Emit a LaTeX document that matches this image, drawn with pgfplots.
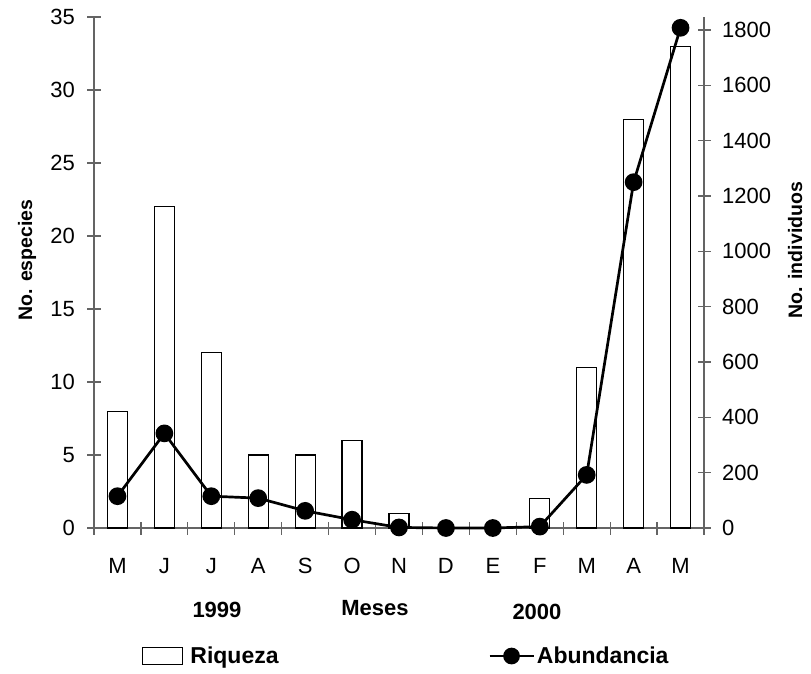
\documentclass[border=0pt]{standalone}
\usepackage{fontspec}
\setmainfont{Liberation Sans}
\usepackage{pgfplots}
\pgfplotsset{compat=1.18}
\definecolor{axgray}{RGB}{100,100,100}
\begin{document}
\begin{tikzpicture}
\useasboundingbox (-94pt,-145pt) rectangle (717pt,528pt);
\begin{axis}[
  scale only axis, width=610pt, height=511pt,
  clip=false,
  xmin=-0.5, xmax=12.5, ymin=0, ymax=35,
  axis y line*=left, axis x line*=bottom,
  axis line style={axgray, line width=1.3pt, -},
  xtick={0,...,12}, xticklabels={M,J,J,A,S,O,N,D,E,F,M,A,M},
  major x tick style={draw=none},
  minor xtick={-0.5,0.5,...,12.5},
  ytick={0,5,...,35},
  tick align=center, major tick length=13pt, minor tick length=13pt,
  tick style={axgray, line width=1.2pt},
  tick label style={font=\fontsize{22}{26}\selectfont},
  /pgf/number format/assume math mode=true,
  /pgf/number format/1000 sep={},
  xticklabel style={anchor=base, inner sep=0pt, yshift=-38.5pt},
  yticklabel style={anchor=east, inner sep=0pt, xshift=-12.5pt},
  ylabel={No. especies},
  ylabel style={font=\bfseries\fontsize{19.5}{23}\selectfont, at={(axis description cs:-0.1016,0.5245)}, anchor=base, inner sep=0pt},
  xlabel={Meses},
  xlabel style={font=\bfseries\fontsize{22}{26}\selectfont, at={(axis description cs:0.4607,-0.1722)}, anchor=base, inner sep=0pt},
  legend style={draw=none, fill=none, at={(axis description cs:0.0787,-0.2505)}, anchor=west, font=\bfseries\fontsize{23}{27}\selectfont, inner sep=0pt},
  legend image code/.code={\draw[draw=black, fill=white, line width=1.2pt] (0pt,-8.5pt) rectangle (40pt,8.5pt); \path (45pt,0pt);},
]
\addplot[ybar, bar width=20pt, draw=black, fill=white, line width=1.2pt] coordinates {
(0,8) (1,22) (2,12) (3,5) (4,5) (5,6) (6,1) (7,0) (8,0) (9,2) (10,11) (11,28) (12,33)};
\addlegendentry{Riqueza}
\node[anchor=base, inner sep=0pt, font=\bfseries\fontsize{22}{26}\selectfont] at (axis description cs:0.2016,-0.1742) {1999};
\node[anchor=base, inner sep=0pt, font=\bfseries\fontsize{22}{26}\selectfont] at (axis description cs:0.7262,-0.180) {2000};
\end{axis}
\begin{axis}[
  scale only axis, width=610pt, height=511pt,
  clip=false,
  xmin=-0.5, xmax=12.5, ymin=0, ymax=1847,
  axis y line*=right, axis x line=none,
  axis line style={axgray, line width=1.3pt, -},
  ytick={0,200,...,1800},
  tick align=center, major tick length=13pt,
  tick style={axgray, line width=1.2pt},
  tick label style={font=\fontsize{22}{26}\selectfont},
  /pgf/number format/assume math mode=true,
  /pgf/number format/1000 sep={},
  yticklabel style={anchor=west, inner sep=0pt, xshift=11.5pt},
  ylabel={No. individuos},
  ylabel style={font=\bfseries\fontsize{19.5}{23}\selectfont, at={(axis description cs:1.1607,0.544)}, anchor=base, inner sep=0pt},
  legend style={draw=none, fill=none, at={(axis description cs:0.6459,-0.2505)}, anchor=west, font=\bfseries\fontsize{23}{27}\selectfont, inner sep=0pt},
  legend image code/.code={\draw[black, line width=2.7pt] (0pt,0pt) -- (44pt,0pt); \fill[black] (22pt,0pt) circle (7pt);},
]
\addplot[black, line width=2.7pt, mark=*, mark size=7.5pt, mark options={fill=black}] coordinates {
(0,115) (1,342) (2,115) (3,108) (4,62) (5,30) (6,2) (7,0) (8,0) (9,5) (10,192) (11,1250) (12,1808)};
\addlegendentry{Abundancia}
\end{axis}
\end{tikzpicture}
\end{document}
